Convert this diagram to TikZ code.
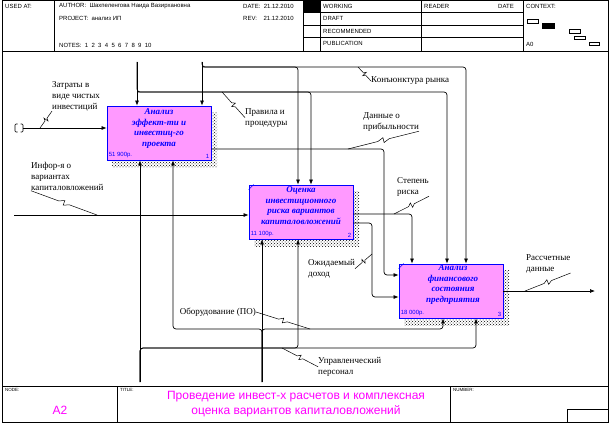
\documentclass[tikz,border=0pt]{standalone}
\usepackage{fontspec}
\setmainfont{Liberation Serif}
\newfontfamily\arialfont{Liberation Sans}
\usetikzlibrary{arrows.meta,calc,patterns}

\definecolor{boxpink}{RGB}{255,153,255}
\definecolor{boxblue}{RGB}{0,0,255}
\definecolor{titlemag}{RGB}{255,0,255}

\tikzset{
  frame/.style={line width=0.6pt},
  flow/.style={line width=0.7pt, rounded corners=3pt},
  arr/.style={flow, -{Latex[length=5pt,width=4pt]}},
  squig/.style={line width=0.5pt, to path={
      -- ($(\tikztostart)!0.42!(\tikztotarget)$)
      -- ($(\tikztostart)!0.5!(\tikztotarget)!2.5pt!90:(\tikztotarget)$)
      -- ($(\tikztostart)!0.5!(\tikztotarget)!2.5pt!-90:(\tikztotarget)$)
      -- ($(\tikztostart)!0.58!(\tikztotarget)$)
      -- (\tikztotarget)}},
  lbl/.style={font=\fontsize{9}{11}\selectfont, align=left, inner sep=0pt},
  hdr/.style={font=\arialfont\fontsize{6}{7}\selectfont, anchor=west, inner sep=0pt},
  tiny/.style={font=\arialfont\fontsize{4.5}{5}\selectfont, anchor=north west, inner sep=0pt},
  act/.style={draw=boxblue, fill=boxpink, line width=0.8pt, minimum width=104pt,
    minimum height=54pt, inner sep=0pt},
  acttext/.style={font=\fontsize{9}{10.5}\selectfont\bfseries\itshape, text=boxblue,
    align=center, inner sep=0pt, anchor=north},
  cost/.style={font=\arialfont\fontsize{6}{7}\selectfont, text=boxblue, inner sep=0pt}
}

\begin{document}
\begin{tikzpicture}[x=1pt,y=-1pt]
  \useasboundingbox (0,0) rectangle (612,425);
  % frame, header and footer
  \draw[frame] (2,0.5) rectangle (608,422);
  \draw[frame] (2,51) -- (608,51);
  \foreach \x in {54,303,320,421,523}
    \draw[frame] (\x,0.5) -- (\x,51);
  \foreach \y in {12.5,25,37.5}
    \draw[frame] (303,\y) -- (523,\y);
  \fill (303,0.5) rectangle (320,12.5);
  \node[hdr] (usedat) at (5,6) {USED AT:};
  \node[hdr] (author) at (59,6) {AUTHOR:\ \ Шахпеленгова Наида Вазирхановна};
  \node[hdr] (project) at (59,18) {PROJECT:\ \ анализ ИП};
  \node[hdr] (notes) at (59,45) {NOTES:\ \ 1\ \ 2\ \ 3\ \ 4\ \ 5\ \ 6\ \ 7\ \ 8\ \ 9\ \ 10};
  \node[hdr] (date) at (243,6) {DATE:\ \ 21.12.2010};
  \node[hdr] (rev) at (243,18) {REV:\ \ \ \ 21.12.2010};
  \node[hdr] (working) at (323,6) {WORKING};
  \node[hdr] (draft) at (323,18.5) {DRAFT};
  \node[hdr] (recom) at (323,31) {RECOMMENDED};
  \node[hdr] (public) at (323,43.5) {PUBLICATION};
  \node[hdr] (reader) at (424,6) {READER};
  \node[hdr] (rdate) at (498,6) {DATE};
  \node[hdr] (context) at (526,6) {CONTEXT:};
  \node[hdr] (azero) at (526,44) {A0};
  \draw[line width=0.5pt] (527,19) rectangle (538,23);
  \filldraw[line width=0.5pt] (542,23) rectangle (554,28);
  \draw[line width=0.5pt] (569,29) rectangle (580,33);
  \draw[line width=0.5pt] (574,36) rectangle (585,39);
  \draw[line width=0.5pt] (589,42) rectangle (599,45);
  \draw[frame] (2,386) -- (608,386);
  \draw[frame] (117,386) -- (117,422);
  \draw[frame] (450,386) -- (450,422);
  \draw[frame] (567,409) rectangle (608,422);
  \node[tiny] (node) at (5,388) {NODE:};
  \node[tiny] (title) at (120,388) {TITLE:};
  \node[tiny] (number) at (453,388) {NUMBER:};
  \node[font=\arialfont\fontsize{12}{15}\selectfont, text=titlemag] (nodeno) at (60,410) {A2};
  \node[font=\arialfont\fontsize{12}{15}\selectfont, text=titlemag, align=center] (ttl)
    at (296,404) {Проведение инвест-х расчетов и комплексная\\оценка вариантов капиталовложений};

  % activity boxes
  \foreach \bx/\by in {107/106, 249/185, 399/264}
    \fill[pattern=crosshatch dots, pattern color=black] (\bx+5,\by+6) rectangle (\bx+110,\by+61);
  \node[act] (a1) at (159,133) {};
  \node[act] (a2) at (301,212) {};
  \node[act] (a3) at (451,291) {};
  \draw[boxblue, line width=0.5pt] ($(a2.north west)+(0,5)$) -- ($(a2.north west)+(5,0)$);
  \draw[boxblue, line width=0.5pt] ($(a3.north west)+(0,5)$) -- ($(a3.north west)+(5,0)$);
  \node[acttext] (t1) at ($(a1.north)+(0,3)$) {Анализ\\эффект-ти и\\инвестиц-го\\проекта};
  \node[acttext] (t2) at ($(a2.north)+(0,2)$) {Оценка\\инвестиционного\\риска вариантов\\капиталовложений};
  \node[acttext] (t3) at ($(a3.north)+(2,1)$) {Анализ\\финансового\\состояния\\предприятия};
  \node[cost, anchor=south west] (c1) at ($(a1.south west)+(2,-2)$) {51 900р.};
  \node[cost, anchor=south east] (n1) at ($(a1.south east)+(-2,-2)$) {1};
  \node[cost, anchor=south west] (c2) at ($(a2.south west)+(2,-2)$) {11 100р.};
  \node[cost, anchor=south east] (n2) at ($(a2.south east)+(-2,-2)$) {2};
  \node[cost, anchor=south west] (c3) at ($(a3.south west)+(2,-2)$) {18 000р.};
  \node[cost, anchor=south east] (n3) at ($(a3.south east)+(-2,-2)$) {3};

  % arrow ends
  \coordinate (pr0) at (137,62);
  \coordinate (kn0) at (202,62);
  \coordinate (zt0) at (23,128);
  \coordinate (in0) at (14,215);
  \coordinate (ob0) at (262,382);
  \coordinate (up0) at (140,382);
  \coordinate (rs1) at (595,291);

  % tunnel
  \draw[line width=0.7pt, rounded corners=1pt] (17.5,124) -- (15,124) -- (15,132) -- (17.5,132);
  \draw[line width=0.7pt, rounded corners=1pt] (20.5,124) -- (23,124) -- (23,132) -- (20.5,132);

  % inputs and outputs
  \draw[arr] (zt0) -- (zt0 -| a1.west);
  \draw[arr] (in0) -- (in0 -| a2.west);
  \draw[arr] (a1.east |- 0,149) -- (384,149) -- (384,275) -- (a3.west |- 0,275);
  \draw[arr] (a2.east |- 0,214) -- (412,214) -- (412,0 |- a3.north);
  \draw[arr] (a2.east |- 0,223) -- (372,223) -- (372,297) -- (a3.west |- 0,297);
  \draw[arr] (a3.east |- 0,291) -- (rs1);

  % controls
  \draw[arr] (pr0) -- (pr0 |- a1.north);
  \draw[arr] (pr0) -- (137,92) -- (447,92) -- (447,0 |- a3.north);
  \draw[arr] (137,92) -- (311,92) -- (311,0 |- a2.north);
  \draw[arr] (kn0) -- (kn0 |- a1.north);
  \draw[arr] (kn0) -- (202,67) -- (466,67) -- (466,0 |- a3.north);
  \draw[arr] (202,67) -- (298,67) -- (298,0 |- a2.north);

  % mechanisms
  \draw[arr] (ob0) -- (ob0 |- a2.south);
  \draw[arr] (ob0) -- (262,329) -- (173,329) -- (173,0 |- a1.south);
  \draw[arr] (ob0) -- (262,329) -- (443,329) -- (443,0 |- a3.south);
  \draw[arr] (up0) -- (up0 |- a1.south);
  \draw[arr] (up0) -- (140,348) -- (476,348) -- (476,0 |- a3.south);
  \draw[arr] (up0) -- (140,348) -- (298,348) -- (298,0 |- a2.south);

  % labels
  \node[lbl, anchor=north west] (zat) at (52,81) {Затраты в\\виде чистых\\инвестиций};
  \node[lbl, anchor=north west] (inf) at (31,162) {Инфор-я о\\вариантах\\капиталовложений};
  \node[lbl, anchor=north west] (pra) at (245,108) {Правила и\\процедуры};
  \node[lbl, anchor=west] (kon) at (371,81) {Конъюнктура рынка};
  \node[lbl, anchor=north west] (dan) at (363,112) {Данные о\\прибыльности};
  \node[lbl, anchor=north west] (ste) at (397,177) {Степень\\риска};
  \node[lbl, anchor=north west] (ozh) at (308,259) {Ожидаемый\\доход};
  \node[lbl, anchor=north west] (ras) at (526,254) {Рассчетные\\данные};
  \node[lbl, anchor=east] (obo) at (256,312) {Оборудование (ПО)};
  \node[lbl, anchor=north west] (upr) at (318,357) {Управленческий\\персонал};
  \draw[squig] (40,128) to (zat.south west);
  \draw[squig] (97,215) to (inf.south west);
  \draw[squig] (222,92) to (pra.west);
  \draw[squig] (358,67) to (kon.west);
  \draw[squig] (348,149) to (dan.south east);
  \draw[squig] (394,214) to (ste.south east);
  \draw[squig] (372,254) to (ozh.east);
  \draw[squig] (525,291) to (ras.south east);
  \draw[squig] (obo.east) to (310,329);
  \draw[squig] (282,348) to (upr.west);
\end{tikzpicture}
\end{document}
